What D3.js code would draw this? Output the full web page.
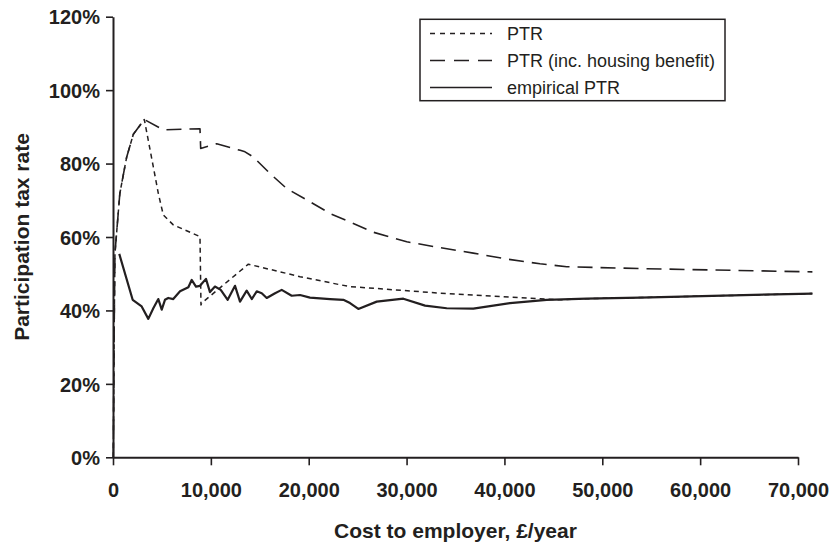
<!DOCTYPE html>
<html>
<head>
<meta charset="utf-8">
<script src="https://cdn.jsdelivr.net/npm/d3@7"></script>
<style>
  html, body { margin: 0; padding: 0; background: #fff; }
  svg { display: block; font-family: "Liberation Sans", Arial, Helvetica, sans-serif; }
</style>
</head>
<body>
<svg id="chart" width="834" height="547"></svg>
<script>
// ---- data (x: cost to employer £/year, y: participation tax rate %) ----
const ptrX = [30, 120, 200, 700, 1400, 2080, 3200, 4120, 4630, 5140, 6160, 8890, 8990, 9060, 13830, 19110, 23200, 24220, 33420, 43640, 45680, 48410, 53860, 71470];
const ptrY = [0, 35, 55.6, 71.9, 81.8, 88, 92, 79.1, 71.9, 66.0, 63.3, 60.1, 41.5, 42.0, 52.6, 49.2, 47.0, 46.5, 44.7, 43.2, 42.9, 43.2, 43.5, 44.6];

const hbX = [30, 120, 200, 700, 1400, 2080, 3200, 5120, 8890, 8960, 10600, 13000, 13490, 14340, 16040, 17750, 20130, 22180, 24560, 26600, 30020, 33420, 36820, 40240, 43640, 46370, 53860, 71470];
const hbY = [0, 35, 55.6, 71.9, 81.8, 88, 92, 89.2, 89.5, 84.1, 85.4, 83.6, 83.2, 81.8, 77.3, 73.2, 69.6, 66.4, 63.7, 61.3, 58.7, 57.1, 55.6, 54.0, 52.7, 51.9, 51.4, 50.5];

const empX = [640, 2010, 2930, 3610, 4120, 4630, 4980, 5310, 5650, 6160, 6850, 7700, 8040, 8480, 8890, 9500, 9910, 10420, 11010, 11720, 12470, 12980, 13660, 14180, 14690, 15200, 15710, 16560, 17240, 18260, 19110, 20130, 22180, 23540, 24220, 25070, 26950, 29670, 31890, 34100, 36820, 40570, 44320, 48410, 53860, 71470];
const empY = [55.4, 42.9, 41.1, 37.7, 40.6, 43.1, 40.2, 42.9, 43.4, 43.1, 45.2, 46.3, 48.3, 46.5, 46.7, 48.6, 45.0, 46.5, 45.6, 42.9, 46.7, 42.4, 45.4, 43.1, 45.2, 44.7, 43.4, 44.7, 45.6, 44.0, 44.2, 43.5, 43.1, 42.9, 42.0, 40.4, 42.4, 43.2, 41.3, 40.6, 40.5, 42.0, 42.9, 43.2, 43.5, 44.6];

const xTicks = [0, 10000, 20000, 30000, 40000, 50000, 60000, 70000];
const yTicks = [0, 20, 40, 60, 80, 100, 120];

const seriesNames = ["PTR", "PTR (inc. housing benefit)", "empirical PTR"];

// ---- layout ----
const ink = "#231f20";
const L = 113, R = 798, T = 16.7, B = 457.3;

const svg = d3.select("#chart");
const x = d3.scaleLinear().domain([0, 70000]).range([L, R]);
const y = d3.scaleLinear().domain([0, 120]).range([B, T]);

// axes
const xAxis = d3.axisBottom(x).tickValues(xTicks).tickSize(8).tickPadding(18)
  .tickFormat(d3.format(",")).tickSizeOuter(0);
const yAxis = d3.axisLeft(y).tickValues(yTicks).tickSize(7).tickPadding(6)
  .tickFormat(d => d + "%").tickSizeOuter(0);

const gx = svg.append("g").attr("transform", `translate(0,${B})`).call(xAxis);
const gy = svg.append("g").attr("transform", `translate(${L},0)`).call(yAxis);

[gx, gy].forEach(g => {
  g.selectAll("path.domain").attr("stroke", ink).attr("stroke-width", 2);
  g.selectAll(".tick line").attr("stroke", ink).attr("stroke-width", 1.6);
  g.selectAll(".tick text").attr("fill", ink)
    .style("font-size", "20px").style("font-weight", "bold")
    .style("font-family", "'Liberation Sans', Arial, sans-serif");
});
gy.selectAll(".tick text").attr("dy", "0.36em");

// axis titles
svg.append("text")
  .attr("x", (L + R) / 2).attr("y", 538)
  .attr("text-anchor", "middle")
  .attr("fill", ink)
  .style("font-size", "21px").style("font-weight", "bold")
  .text("Cost to employer, £/year");

svg.append("text")
  .attr("transform", `translate(29,${(T + B) / 2}) rotate(-90)`)
  .attr("text-anchor", "middle")
  .attr("fill", ink)
  .style("font-size", "21px").style("font-weight", "bold")
  .text("Participation tax rate");

// lines
const line = d3.line().x(d => x(d[0])).y(d => y(d[1]));
const zip = (a, b) => a.map((v, i) => [v, b[i]]);

const styles = [
  { dash: "5,4", width: 1.5 },
  { dash: "15,8", width: 1.6 },
  { dash: null, width: 2.2 }
];
const data = [zip(ptrX, ptrY), zip(hbX, hbY), zip(empX, empY)];

data.forEach((d, i) => {
  svg.append("path")
    .datum(d)
    .attr("d", line)
    .attr("fill", "none")
    .attr("stroke", ink)
    .attr("stroke-width", styles[i].width)
    .attr("stroke-linejoin", "round")
    .attr("stroke-dasharray", styles[i].dash);
});

// legend
const lg = svg.append("g");
lg.append("rect")
  .attr("x", 420).attr("y", 19.3).attr("width", 305).attr("height", 81.4)
  .attr("fill", "#fff").attr("stroke", ink).attr("stroke-width", 1.5);

seriesNames.forEach((name, i) => {
  const cy = 33.5 + i * 27;
  lg.append("line")
    .attr("x1", 430).attr("x2", 492).attr("y1", cy).attr("y2", cy)
    .attr("stroke", ink)
    .attr("stroke-width", i === 2 ? 1.6 : 1.5)
    .attr("stroke-dasharray", i === 0 ? "5,5" : i === 1 ? "15,9" : null);
  lg.append("text")
    .attr("x", 507).attr("y", cy).attr("dy", "0.35em")
    .attr("fill", ink)
    .style("font-size", "18px")
    .text(name);
});
</script>
</body>
</html>
